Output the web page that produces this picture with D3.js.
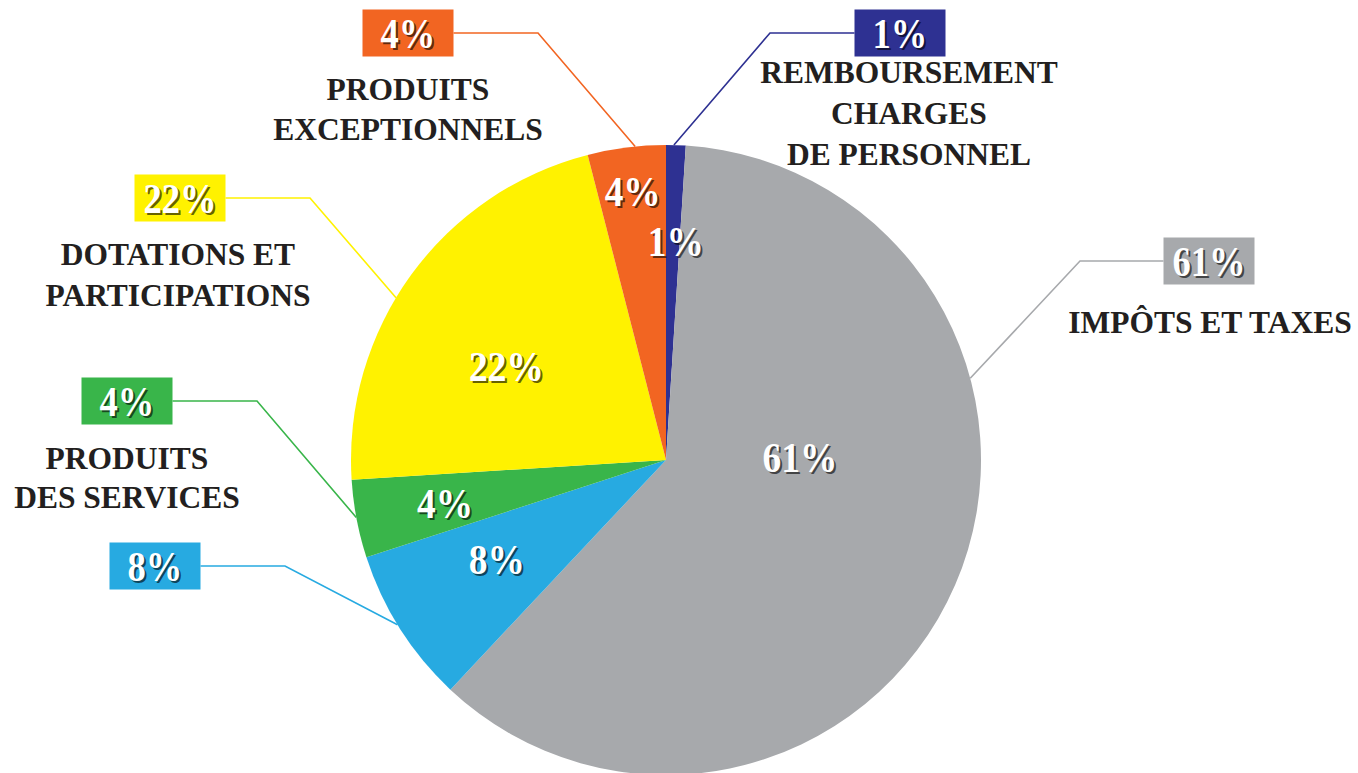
<!DOCTYPE html>
<html><head><meta charset="utf-8">
<script src="https://cdn.jsdelivr.net/npm/d3@7"></script>
<style>html,body{margin:0;padding:0;background:#fff;overflow:hidden}</style>
</head><body><svg id="c" width="1358" height="773"></svg>
<script>
// ---- data ----
const categories = ["Remboursement charges de personnel","Impôts et taxes","Autres","Produits des services","Dotations et participations","Produits exceptionnels"];
const labelLines = [["REMBOURSEMENT","CHARGES","DE PERSONNEL"],["IMPÔTS ET TAXES"],[],["PRODUITS","DES SERVICES"],["DOTATIONS ET","PARTICIPATIONS"],["PRODUITS","EXCEPTIONNELS"]];
const values = [1,61,8,4,22,4];
const percentLabels = ["1%","61%","8%","4%","22%","4%"];
const colors = ["#2e3192","#a7a9ac","#27aae1","#39b54a","#fff200","#f26522"];

// ---- layout (positions/styles, not data) ----
const center = [666,460], radius = 315;
const boxCenters = [[900,33],[1209,261],[155,566],[127,401],[180,198],[408,33]];
const elbowX = [770,1080,285,257,310,538];
const leaderFrac = [0.4,0.325,0.53,0.52,0.437,0.61];
const innerFrac = [0.72,0.388,0.57,0.49,0.43,0.51];
const innerR = [219,134,196,225,185,271];
const labelCX = [909,1210,0,127,178,408];
const labelY0 = [83,333,0,469,265,100];
const lineGap = [41,0,0,39,41,40];
const boxW = 91, boxH = 47;

const svg = d3.select("#c");
const g = svg.append("g").attr("transform",`translate(${center[0]},${center[1]})`);
const pie = d3.pie().sort(null).value(d=>d)(values);
const arc = d3.arc().innerRadius(0).outerRadius(radius);

g.selectAll("path.slice").data(pie).join("path")
  .attr("class","slice").attr("d",arc).attr("fill",(d,i)=>colors[i]);

function polar(a, r){ return [center[0]+r*Math.sin(a), center[1]-r*Math.cos(a)]; }
function angAt(d, f){ return d.startAngle + f*(d.endAngle-d.startAngle); }

const pctFont = "'Liberation Serif', 'Times New Roman', serif";
function pctText(sel, x, y, txt, size){
  const s = 0.87;
  const grp = sel.append("g").attr("transform",`translate(${x},${y}) scale(${s},1)`);
  grp.append("text").attr("x",2/s).attr("y",2).attr("text-anchor","middle")
    .attr("font-family",pctFont).attr("font-weight","bold").attr("font-size",size)
    .attr("fill","rgba(0,0,0,0.6)").text(txt);
  grp.append("text").attr("x",0).attr("y",0).attr("text-anchor","middle")
    .attr("font-family",pctFont).attr("font-weight","bold").attr("font-size",size)
    .attr("fill","#ffffff").text(txt);
}

// leader lines
pie.forEach((d,i)=>{
  const [bx,by] = boxCenters[i];
  const startX = elbowX[i] < bx ? bx - boxW/2 : bx + boxW/2;
  const p = polar(angAt(d, leaderFrac[i]), radius);
  svg.append("path")
    .attr("d", `M${startX},${by} H${elbowX[i]} L${p[0]},${p[1]}`)
    .attr("fill","none").attr("stroke",colors[i]).attr("stroke-width",1.6);
});

// boxes
pie.forEach((d,i)=>{
  const [bx,by] = boxCenters[i];
  svg.append("rect").attr("x",bx-boxW/2).attr("y",by-boxH/2)
    .attr("width",boxW).attr("height",boxH).attr("fill",colors[i]);
  pctText(svg, bx, by+15, percentLabels[i], 42);
});

// inner labels
pie.forEach((d,i)=>{
  const p = polar(angAt(d, innerFrac[i]), innerR[i]);
  pctText(svg, p[0], p[1]+15, percentLabels[i], 43);
});

// category labels
labelLines.forEach((lines,i)=>{
  lines.forEach((ln,j)=>{
    svg.append("text").attr("x",labelCX[i]).attr("y",labelY0[i]+j*lineGap[i])
      .attr("text-anchor","middle").attr("font-family",pctFont)
      .attr("font-weight","bold").attr("font-size",31.5).attr("fill","#231f20").text(ln);
  });
});
</script></body></html>
